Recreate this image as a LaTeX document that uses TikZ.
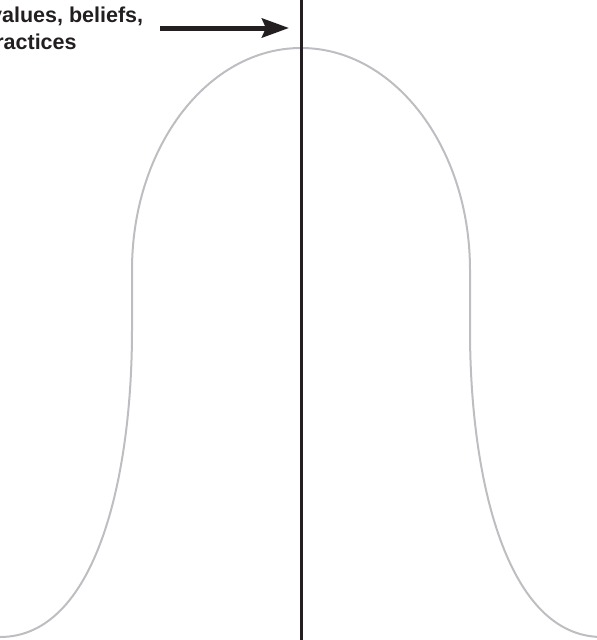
\documentclass[tikz,border=0pt]{standalone}
\usepackage{fontspec}
\setmainfont{Liberation Sans}
\usetikzlibrary{arrows.meta}
\definecolor{curvegray}{HTML}{BEBEC2}
\definecolor{inkblack}{HTML}{231F20}
\tikzset{
  lbl/.style={anchor=base west, inner sep=0pt, font=\fontsize{21.5}{25}\selectfont\bfseries, text=inkblack},
  bell/.style={draw=curvegray, line width=2pt},
  axisline/.style={draw=inkblack, line width=2.2pt},
  pointer/.style={draw=inkblack, line width=5pt, -{Stealth[length=27pt,width=19pt,inset=4pt]}}
}
\begin{document}
\begin{tikzpicture}[x=1pt,y=-1pt]
\useasboundingbox (0,0) rectangle (597,640);
\clip (0,0) rectangle (597,640);
% bell curve
\draw[bell] (0,637) .. controls (95,637) and (132,480) .. (132,330)
  -- (132,270) .. controls (132,147) and (208,48) .. (301,48)
  .. controls (394,48) and (470,147) .. (470,270)
  -- (470,330) .. controls (470,480) and (507,637) .. (602,637);
% vertical line
\coordinate (vtop) at (301.5,-2);
\coordinate (vbot) at (301.5,642);
\draw[axisline] (vtop) -- (vbot);
% labels
\node[lbl] (t1) at (-10,22) {values, beliefs,};
\node[lbl] (t2) at (-18,49) {practices};
% arrow
\coordinate (as) at (160,28);
\coordinate (ae) at (289,28);
\draw[pointer] (as) -- (ae);
\end{tikzpicture}
\end{document}
